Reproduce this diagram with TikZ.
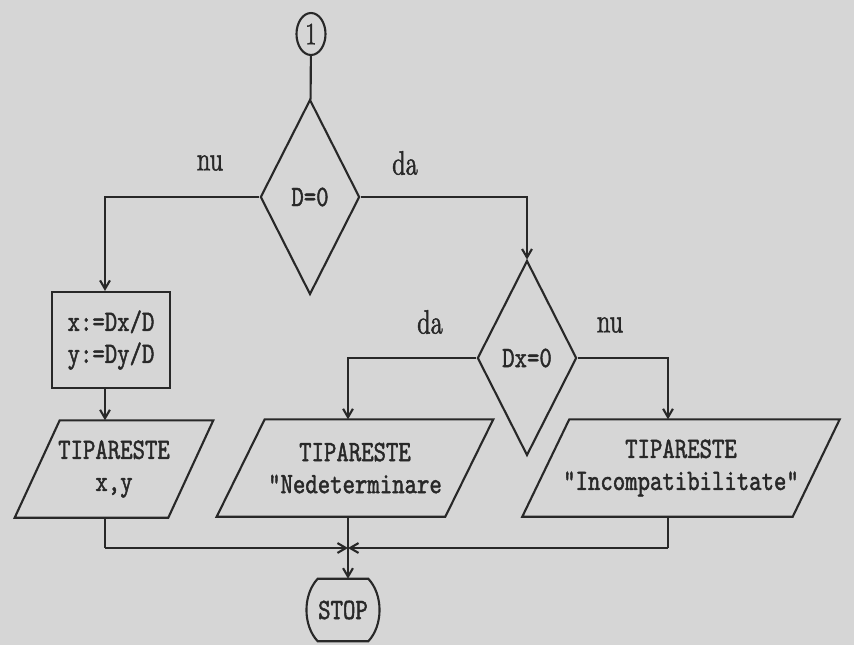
\documentclass[tikz,border=0pt]{standalone}
\usepackage{fontspec}
\newfontfamily\tipar{lmmono10-regular.otf}[FakeStretch=0.8,FakeBold=1.5]
\newfontfamily\etfont{lmroman10-regular.otf}[FakeStretch=0.72,FakeBold=1.3]
\usetikzlibrary{shapes.geometric,arrows.meta,positioning,calc}
\definecolor{ink}{RGB}{40,40,40}
\definecolor{paper}{RGB}{214,214,214}
\tikzset{
  flow/.style={draw=ink, line width=1.5pt},
  arr/.style={flow, -{Straight Barb[length=6pt,width=7pt]}},
  txt/.style={text=ink, font=\tipar\fontsize{21}{22.8}\selectfont},
  conector/.style={flow, ellipse, minimum width=0.725cm, minimum height=1.05cm, inner sep=0pt, text=ink, font=\etfont\fontsize{22}{24}\selectfont},
  decizie/.style={flow, txt, diamond, minimum width=2.48cm, minimum height=4.87cm, inner sep=0pt},
  calcul/.style={flow, txt, rectangle, align=left, minimum width=2.95cm, minimum height=2.4cm},
  tiparire/.style={txt, rectangle, align=center, minimum height=2.42cm, inner sep=0pt},
  stopbox/.style={txt, minimum width=1.25cm, minimum height=1.55cm, inner sep=0pt},
  eticheta/.style={text=ink, font=\etfont\fontsize{24}{26}\selectfont}
}
% contur de paralelogram pe un nod dreptunghiular
\newcommand\paralel[2]{\draw[flow] ($(#1.north west)+(#2,0)$) -- (#1.north east)
  -- ($(#1.south east)-(#2,0)$) -- (#1.south west) -- cycle;}
\begin{document}
\begin{tikzpicture}[x=0.025cm,y=-0.025cm]
\fill[paper] (0,0) rectangle (854,645);
\node[conector] (unu) at (311,34) {1};
\node[decizie] (d) at (310,197) {D=0};
\node[decizie] (dx) at (527,358) {Dx=0};
\node[calcul] (xy) at (111,340) {x:=Dx/D\\y:=Dy/D};
\node[tiparire, minimum width=4.95cm] (t1) at (114,469) {TIPARESTE\\x,y};
\node[tiparire, minimum width=6.9cm] (t2) at (355,468) {TIPARESTE\\"Nedeterminare};
\node[tiparire, minimum width=7.92cm] (t3) at (681,468) {TIPARESTE\\"Incompatibilitate"};
\node[stopbox] (stop) at (343,610) {STOP};
\paralel{t1}{45}
\paralel{t2}{48}
\paralel{t3}{47}
\coordinate (k1) at (105,548);
\coordinate (k2) at (348,548);
\coordinate (k3) at (668,548);
% etichete
\node[eticheta] (nu1) at (210,163) {nu};
\node[eticheta] (da1) at (405,163) {da};
\node[eticheta] (da2) at (430,322) {da};
\node[eticheta] (nu2) at (610,325) {nu};
% legaturi
\draw[flow] (unu) -- (d);
\draw[arr] (d.west) -| (k1 |- xy.north);
\draw[arr] (xy.south -| k1) -- (k1 |- t1.north);
\draw[flow] (t1.south -| k1) -- (k1);
\draw[arr] (k1) -- (k2);
\draw[arr] (d.east) -| (dx.north);
\draw[arr] (dx.west) -| (k2 |- t2.north);
\draw[arr] (dx.east) -| (k3 |- t3.north);
\draw[flow] (t3.south -| k3) -- (k3);
\draw[arr] (k3) -- (k2);
\draw[arr] (t2.south -| k2) -- (k2 |- stop.north);
\draw[flow] (stop.north west) -- (stop.north east)
  .. controls +(15,16) and +(15,-16) .. (stop.south east) -- (stop.south west)
  .. controls +(-15,-16) and +(-15,16) .. (stop.north west) -- cycle;
\end{tikzpicture}
\end{document}
